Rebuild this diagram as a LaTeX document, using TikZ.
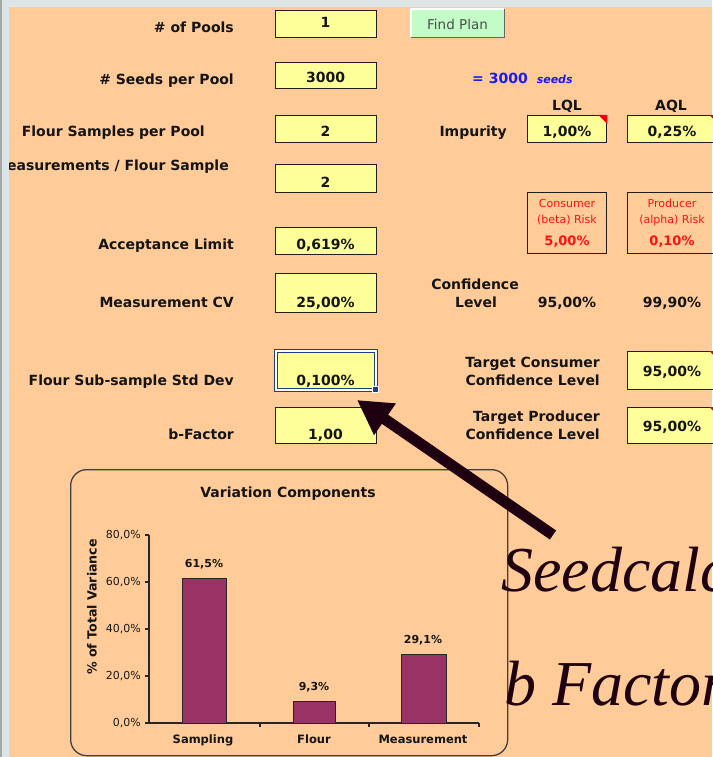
\documentclass[tikz,border=0pt]{standalone}
\usepackage{fontspec}
\setmainfont{DejaVu Sans}
\newfontfamily\bigserif{Liberation Serif}
\usetikzlibrary{arrows.meta}
\definecolor{peach}{HTML}{FFCC99}
\definecolor{cellyellow}{HTML}{FFFF99}
\definecolor{stripgray}{HTML}{DCE4E6}
\definecolor{btngreen}{HTML}{C4FCC8}
\definecolor{barpurple}{HTML}{993366}
\definecolor{arrowdark}{HTML}{1E0010}
\definecolor{selblue}{HTML}{1F3F80}
\definecolor{riskred}{HTML}{FF1010}
\definecolor{seedblue}{HTML}{1A1AF0}
\newcommand\lblfont{\fontsize{14}{16}\selectfont\bfseries}
\newcommand\smallfont{\fontsize{11}{13}\selectfont}
\tikzset{
  cell/.style={draw=black!88, line width=1.3pt, fill=cellyellow, anchor=north west, inner sep=0pt},
  riskbox/.style={draw=black!88, line width=1.3pt, anchor=north west, inner sep=0pt},
  lbl/.style={anchor=base east, inner sep=0pt, text=black!92, font=\lblfont},
  val/.style={anchor=base, inner sep=0pt, text=black!92, font=\lblfont},
  risktxt/.style={anchor=base, inner sep=0pt, text=riskred, font=\smallfont},
  corner/.style={fill=red!95!black},
  ticklbl/.style={anchor=east, inner sep=0pt, font=\smallfont, text=black!90},
  barlbl/.style={anchor=base, inner sep=0pt, font=\smallfont\bfseries, text=black!92},
  catlbl/.style={anchor=base, inner sep=0pt, font=\fontsize{11.5}{13}\selectfont\bfseries, text=black!92},
  bar/.style={fill=barpurple, draw=black!85, line width=1pt},
  bigtxt/.style={anchor=base west, inner sep=0pt, text=arrowdark, font=\fontsize{64}{70}\selectfont\bigserif\itshape},
  bigarrow/.style={draw=arrowdark, line width=11pt, -{Triangle[length=34pt,width=36pt]}}
}
\begin{document}
\begin{tikzpicture}[x=1pt,y=-1pt]
\useasboundingbox (0,0) rectangle (712,757);
\fill[peach] (0,0) rectangle (712,757);

% ---------- left column labels ----------
\node[lbl] (lPools) at (234,33) {\# of Pools};
\node[lbl] (lSeeds) at (234,85) {\# Seeds per Pool};
\node[lbl] (lFlour) at (205,136) {Flour Samples per Pool};
\node[lbl] (lMeas) at (229,170) {Measurements / Flour Sample};
\node[lbl] (lAccept) at (234,249) {Acceptance Limit};
\node[lbl] (lCV) at (234,307) {Measurement CV};
\node[lbl] (lStd) at (234,385) {Flour Sub-sample Std Dev};
\node[lbl] (lB) at (234,439) {b-Factor};

% ---------- left column cells ----------
\node[cell, minimum width=101pt, minimum height=27pt] (bPools) at (275,10) {};
\node[cell, minimum width=101pt, minimum height=26pt] (bSeeds) at (275,62) {};
\node[cell, minimum width=101pt, minimum height=27pt] (bFlour) at (275,115) {};
\node[cell, minimum width=101pt, minimum height=28pt] (bMeas) at (275,164) {};
\node[cell, minimum width=101pt, minimum height=27pt] (bAccept) at (275,227) {};
\node[cell, minimum width=101pt, minimum height=39pt] (bCV) at (275,273) {};
% selected cell
\node[anchor=north west, inner sep=0pt, minimum width=103pt, minimum height=42pt, fill=white, draw=selblue, line width=1.3pt] (bStdOut) at (274,349) {};
\node[anchor=north west, inner sep=0pt, minimum width=97pt, minimum height=36pt, fill=cellyellow, draw=selblue, line width=1.3pt] (bStd) at (277,352) {};
\node[anchor=center, inner sep=0pt, minimum size=6pt, fill=selblue, draw=white, line width=0.6pt] (selHandle) at (375,389) {};
\node[cell, minimum width=101pt, minimum height=36pt] (bB) at (275,407) {};

\node[val] (vPools) at (325.5,28) {1};
\node[val] (vSeeds) at (325.5,83) {3000};
\node[val] (vFlour) at (325.5,136) {2};
\node[val] (vMeas) at (325.5,187) {2};
\node[val] (vAccept) at (325.5,249) {0,619\%};
\node[val] (vCV) at (325.5,307) {25,00\%};
\node[val] (vStd) at (325.5,385) {0,100\%};
\node[val] (vB) at (325.5,439) {1,00};

% ---------- Find Plan button ----------
\node[anchor=north west, inner sep=0pt, minimum width=93pt, minimum height=28pt, fill=btngreen] (bFind) at (411,9) {};
\draw[white, line width=1.2pt] (bFind.south west) -- (bFind.north west) -- (bFind.north east);
\draw[black!60, line width=1.4pt] (bFind.north east) -- (bFind.south east) -- (bFind.south west);
\node[anchor=base, inner sep=0pt, font=\fontsize{13.5}{15}\selectfont, text=black!70] (tFind) at (457.5,30) {Find Plan};

% ---------- seeds note ----------
\node[anchor=base west, inner sep=0pt, text=seedblue] (tSeeds) at (472,84)
  {\lblfont = 3000\hspace{9pt}{\fontsize{11}{13}\selectfont\bfseries\itshape seeds}};

% ---------- impurity ----------
\node[val] (hLQL) at (567,111) {LQL};
\node[val] (hAQL) at (671,111) {AQL};
\node[lbl] (lImp) at (507,136) {Impurity};
\node[cell, minimum width=79pt, minimum height=27pt] (bLQL) at (527,115) {};
\node[cell, minimum width=90pt, minimum height=27pt] (bAQL) at (627,115) {};
\fill[corner] (bLQL.north east) ++(-9,0) -- (bLQL.north east) -- ++(0,9) -- cycle;
\fill[corner] (bAQL.north east) ++(-9,0) -- (bAQL.north east) -- ++(0,9) -- cycle;
\node[val] (vLQL) at (567,136) {1,00\%};
\node[val] (vAQL) at (672,136) {0,25\%};

% ---------- risks ----------
\node[riskbox, minimum width=79pt, minimum height=61pt] (bCons) at (527,192) {};
\node[riskbox, minimum width=90pt, minimum height=61pt] (bProd) at (627,192) {};
\node[risktxt] (tCons1) at (567,207) {Consumer};
\node[risktxt] (tCons2) at (567,223) {(beta) Risk};
\node[risktxt, font=\fontsize{13}{15}\selectfont\bfseries] (tCons3) at (567,245) {5,00\%};
\node[risktxt] (tProd1) at (672,207) {Producer};
\node[risktxt] (tProd2) at (672,223) {(alpha) Risk};
\node[risktxt, font=\fontsize{13}{15}\selectfont\bfseries] (tProd3) at (672,245) {0,10\%};

% ---------- confidence ----------
\node[anchor=base, inner sep=0pt, font=\lblfont, text=black!92, align=center] (lConf) at (475,289) {Confidence};
\node[anchor=base, inner sep=0pt, font=\lblfont, text=black!92] (lLevel) at (476,307) {Level};
\node[val] (vConfC) at (567,307) {95,00\%};
\node[val] (vConfP) at (672,307) {99,90\%};

% ---------- targets ----------
\node[lbl] (lTC1) at (600,367) {Target Consumer};
\node[lbl] (lTC2) at (600,385) {Confidence Level};
\node[lbl] (lTP1) at (600,421) {Target Producer};
\node[lbl] (lTP2) at (600,439) {Confidence Level};
\node[cell, minimum width=90pt, minimum height=38pt] (bTC) at (627,351) {};
\node[cell, minimum width=90pt, minimum height=36pt] (bTP) at (627,407) {};
\fill[corner] (bTC.north east) ++(-9,0) -- (bTC.north east) -- ++(0,9) -- cycle;
\fill[corner] (bTP.north east) ++(-9,0) -- (bTP.north east) -- ++(0,9) -- cycle;
\node[val] (vTC) at (672,376) {95,00\%};
\node[val] (vTP) at (672,431) {95,00\%};

% ---------- chart ----------
\node[anchor=north west, inner sep=0pt, minimum width=437pt, minimum height=286pt, draw=black!75, line width=1.3pt, rounded corners=16pt, fill=peach] (chart) at (70,469) {};
\node[anchor=base, inner sep=0pt, font=\lblfont, text=black!92] (cTitle) at (288,497) {Variation Components};
\coordinate (origin) at (149,723);
\coordinate (ytop) at (149,535);
\coordinate (xend) at (479,723);
\draw[black!85, line width=1.2pt] (ytop) -- (origin) -- (xend);
\foreach \v/\y in {0/723,20/676,40/629,60/582,80/535} {
  \draw[black!85, line width=1.2pt] (145,\y) -- (149,\y);
  \node[ticklbl] (tick\v) at (141,\y) {\v,0\%};
}
\foreach \xx in {260,369,479} {
  \draw[black!85, line width=1.2pt] (\xx,723) -- (\xx,727);
}
\draw[bar] (182,723) rectangle (226,578);
\draw[bar] (293,723) rectangle (335,701);
\draw[bar] (401,723) rectangle (446,654);
\node[barlbl] (bl1) at (204,567) {61,5\%};
\node[barlbl] (bl2) at (314,690) {9,3\%};
\node[barlbl] (bl3) at (423,643) {29,1\%};
\node[catlbl] (c1) at (203,743) {Sampling};
\node[catlbl] (c2) at (314,743) {Flour};
\node[catlbl] (c3) at (423,743) {Measurement};
\node[rotate=90, inner sep=0pt, font=\fontsize{12.6}{14}\selectfont\bfseries, text=black!92] (yTitle) at (92,607) {\% of Total Variance};

% ---------- big text and arrow ----------
\node[bigtxt] (seedcalc) at (501,591) {Seedcalc};
\node[bigtxt] (bfactor) at (504,705) {b Factor};
\coordinate (arrowstart) at (553,535);
\coordinate (arrowtip) at (357,400);
\draw[bigarrow] (arrowstart) -- (arrowtip);

% ---------- window strips ----------
\fill[stripgray] (0,0) rectangle (712,7);
\fill[stripgray] (0,0) rectangle (9,757);
\fill[black!35] (0,0) rectangle (2,757);
\end{tikzpicture}
\end{document}
